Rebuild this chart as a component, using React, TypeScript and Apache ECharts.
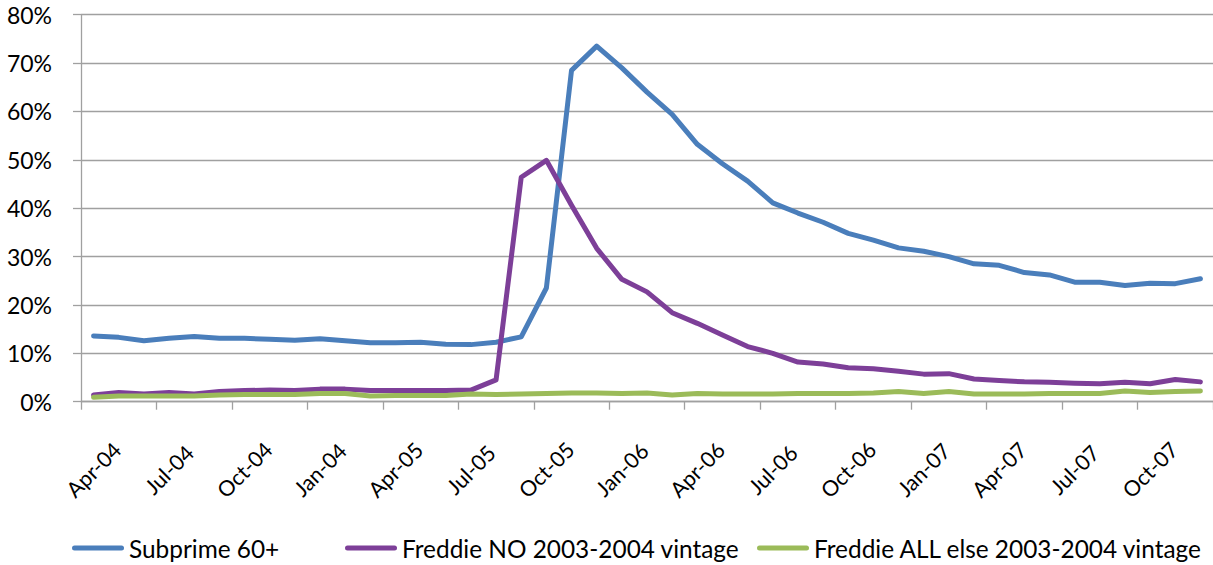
import React, { useEffect, useRef } from "react";
import * as echarts from "echarts";

const categories = [
  "Apr-04", "May-04", "Jun-04", "Jul-04", "Aug-04", "Sep-04", "Oct-04", "Nov-04", "Dec-04",
  "Jan-04", "Feb-05", "Mar-05", "Apr-05", "May-05", "Jun-05", "Jul-05", "Aug-05", "Sep-05",
  "Oct-05", "Nov-05", "Dec-05", "Jan-06", "Feb-06", "Mar-06", "Apr-06", "May-06", "Jun-06",
  "Jul-06", "Aug-06", "Sep-06", "Oct-06", "Nov-06", "Dec-06", "Jan-07", "Feb-07", "Mar-07",
  "Apr-07", "May-07", "Jun-07", "Jul-07", "Aug-07", "Sep-07", "Oct-07", "Nov-07", "Dec-07",
];

const subprime60 = [
  13.6, 13.3, 12.6, 13.1, 13.5, 13.1, 13.1, 12.9, 12.7, 13.0, 12.6, 12.2, 12.2, 12.3, 11.9,
  11.8, 12.3, 13.4, 23.5, 68.5, 73.5, 69.0, 64.0, 59.4, 53.2, 49.2, 45.6, 41.1, 39.0, 37.1,
  34.8, 33.4, 31.8, 31.1, 30.0, 28.5, 28.2, 26.7, 26.2, 24.7, 24.7, 24.0, 24.5, 24.4, 25.4,
];

const freddieNO = [
  1.4, 1.9, 1.6, 1.9, 1.6, 2.1, 2.3, 2.4, 2.3, 2.6, 2.6, 2.3, 2.3, 2.3, 2.3,
  2.4, 4.5, 46.4, 49.9, 40.6, 31.7, 25.3, 22.7, 18.4, 16.2, 13.8, 11.4, 10.0, 8.2, 7.8,
  7.0, 6.8, 6.3, 5.7, 5.8, 4.7, 4.4, 4.1, 4.0, 3.8, 3.7, 4.0, 3.7, 4.6, 4.1,
];

const freddieAllElse = [
  0.9, 1.2, 1.2, 1.2, 1.2, 1.4, 1.5, 1.5, 1.5, 1.7, 1.7, 1.2, 1.3, 1.3, 1.3,
  1.6, 1.5, 1.6, 1.7, 1.8, 1.8, 1.7, 1.8, 1.4, 1.7, 1.6, 1.6, 1.6, 1.7, 1.7,
  1.7, 1.8, 2.1, 1.7, 2.1, 1.6, 1.6, 1.6, 1.7, 1.7, 1.7, 2.2, 1.9, 2.1, 2.2,
];

const seriesNames = [
  "Subprime 60+",
  "Freddie NO 2003-2004 vintage",
  "Freddie ALL else 2003-2004 vintage",
];
const colors = ["#4a7ebb", "#7d3f98", "#9bbb59"];
const legendLefts = [72, 345, 757];

const FONT = "Lato";
const GRID_COLOR = "#a0a0a0";
const capsule = "path://M2.5,0 L49.5,0 A2.5,2.5 0 0 1 49.5,5 L2.5,5 A2.5,2.5 0 0 1 2.5,0 Z";

export default function App() {
  const ref = useRef<HTMLDivElement>(null);

  useEffect(() => {
    if (!ref.current) return;
    const chart = echarts.init(ref.current, undefined, { renderer: "svg" });
    const dataSets = [subprime60, freddieNO, freddieAllElse];
    chart.setOption({
      animation: false,
      backgroundColor: "#ffffff",
      grid: { left: 81, right: -4, top: 14.7, bottom: 163.3, containLabel: false },
      legend: seriesNames.map((name, i) => ({
        data: [name],
        left: legendLefts[i],
        top: 533,
        icon: capsule,
        itemWidth: 52,
        itemHeight: 5,
        padding: 0,
        textStyle: { fontFamily: FONT, fontSize: 24.4, color: "#000", lineHeight: 30 },
        selectedMode: false,
      })),
      xAxis: {
        type: "category",
        data: categories,
        boundaryGap: true,
        axisLine: { show: true, lineStyle: { color: GRID_COLOR, width: 1.3 } },
        axisTick: { show: true, interval: 2, length: 8, lineStyle: { color: GRID_COLOR, width: 1.3 } },
        axisLabel: {
          interval: 2,
          rotate: 45,
          align: "center",
          verticalAlign: "middle",
          margin: 68,
          fontFamily: FONT,
          fontSize: 21.5,
          color: "#000",
        },
        splitLine: { show: false },
      },
      yAxis: {
        type: "value",
        min: 0,
        max: 80,
        interval: 10,
        axisLine: { show: true, lineStyle: { color: GRID_COLOR, width: 1.3 } },
        axisTick: { show: true, length: 8, lineStyle: { color: GRID_COLOR, width: 1.3 } },
        axisLabel: {
          formatter: "{value}%",
          margin: 29,
          fontFamily: FONT,
          fontSize: 23,
          color: "#000",
          padding: [6, 0, 0, 0],
        },
        splitLine: { show: true, lineStyle: { color: GRID_COLOR, width: 1.3 } },
      },
      series: seriesNames.map((name, i) => ({
        name,
        type: "line",
        data: dataSets[i],
        showSymbol: false,
        symbol: "none",
        smooth: false,
        color: colors[i],
        lineStyle: { color: colors[i], width: 5, cap: "round", join: "round" },
        itemStyle: { color: colors[i] },
      })),
    });
    return () => chart.dispose();
  }, []);

  return (
    <div
      ref={ref}
      style={{ position: "fixed", left: 0, top: 0, width: 1213, height: 565, background: "#fff" }}
    />
  );
}
